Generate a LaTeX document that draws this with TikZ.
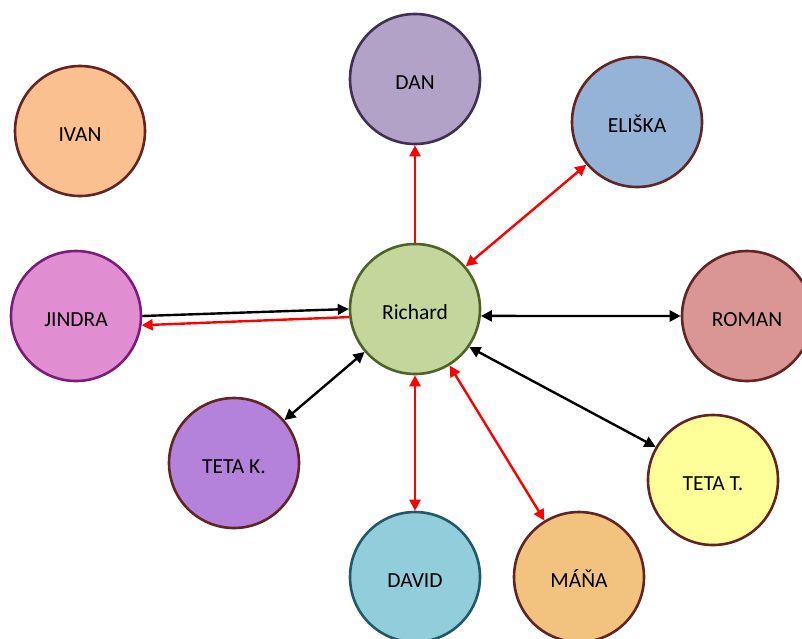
\documentclass[tikz,border=0pt]{standalone}
\usepackage{fontspec}
\setmainfont{Carlito}
\usetikzlibrary{arrows.meta}

\definecolor{ivanfill}{HTML}{FAC090}
\definecolor{danfill}{HTML}{B2A2C7}
\definecolor{eliskafill}{HTML}{95B3D7}
\definecolor{jindrafill}{HTML}{E08DD1}
\definecolor{richardfill}{HTML}{C3D69B}
\definecolor{romanfill}{HTML}{D99694}
\definecolor{tetakfill}{HTML}{B482DA}
\definecolor{tetatfill}{HTML}{FFFF99}
\definecolor{davidfill}{HTML}{92CDDC}
\definecolor{manafill}{HTML}{F2C27F}
\definecolor{brownline}{HTML}{632523}
\definecolor{purpleline}{HTML}{3F3151}
\definecolor{pinkline}{HTML}{7A1E78}
\definecolor{greenline}{HTML}{4F6228}
\definecolor{tealline}{HTML}{215968}

\begin{document}
\begin{tikzpicture}[x=1pt,y=1pt,yscale=-1,xscale=1,
  person/.style={circle, minimum size=130pt, inner sep=0pt, line width=2.6pt, draw=brownline, text height=21pt, text depth=0pt, font=\fontsize{21.5}{25}\selectfont},
  blackarrow/.style={line width=2.4pt, -{Triangle[length=11pt,width=11pt]}},
  bothways/.style={{Triangle[length=11pt,width=11pt]}-{Triangle[length=11pt,width=11pt]}},
  redarrow/.style={blackarrow, color=red}]
\useasboundingbox (0,0) rectangle (802,638);

% Circles
\node [person, fill=ivanfill] (ivan) at (80,131) {IVAN};
\node [person, fill=danfill, draw=purpleline] (dan) at (415,79) {DAN};
\node [person, fill=eliskafill] (eliska) at (637,122) {ELIŠKA};
\node [person, fill=jindrafill, draw=pinkline] (jindra) at (76,316) {JINDRA};
\node [person, fill=richardfill, draw=greenline] (richard) at (415,309) {Richard};
\node [person, fill=romanfill] (roman) at (747,316) {ROMAN};
\node [person, fill=tetakfill] (tetak) at (234,463) {TETA K.};
\node [person, fill=tetatfill] (tetat) at (713,480) {TETA T.};
\node [person, fill=davidfill, draw=tealline] (david) at (415,577) {DAVID};
\node [person, fill=manafill] (mana) at (579,577) {MÁŇA};

% Red arrows
\draw [redarrow] (richard) -- (dan) ;
\draw [redarrow, bothways] (richard) -- (eliska) ;
\draw [redarrow] (richard.187) -- (jindra.-8) ;
\draw [redarrow, bothways] (richard) -- (david) ;
\draw [redarrow, bothways] (richard) -- (mana) ;

% Black arrows
\draw [blackarrow] (jindra.east) -- (richard.west) ;
\draw [blackarrow, bothways] (richard.-6) -- (roman.west) ;
\draw [blackarrow, bothways] (richard) -- (tetak) ;
\draw [blackarrow, bothways] (richard.-35) -- (tetat.150) ;

\end{tikzpicture}
\end{document}
